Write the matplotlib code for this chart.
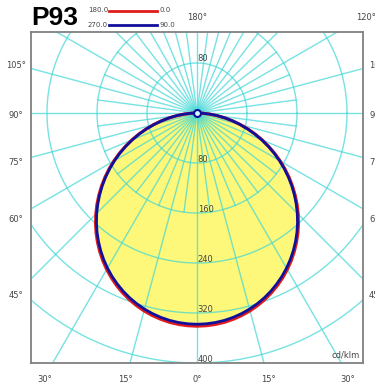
import numpy as np
import matplotlib.pyplot as plt
from matplotlib.lines import Line2D

# luminous intensity (cd/klm) vs gamma angle, C0/C180 and C90/C270 planes
gamma = np.arange(0, 92.5, 2.5)
c0_180 = [341, 340.6, 339.5, 337.7, 335.0, 331.7, 327.7, 322.9, 317.5, 311.3,
          304.5, 297.1, 289.0, 280.4, 271.1, 261.3, 251.0, 240.2, 228.9,
          217.2, 205.1, 192.7, 180.0, 166.9, 153.7, 140.2, 126.6, 113.0,
          99.3, 85.6, 72.0, 58.5, 45.0, 32.2, 20.0, 8.8, 0.5]
c90_270 = [338, 337.6, 336.5, 334.7, 332.1, 328.8, 324.8, 320.1, 314.7, 308.6,
           301.8, 294.5, 286.5, 277.9, 268.7, 259.0, 248.8, 238.1, 226.9,
           215.3, 203.3, 191.0, 178.4, 165.4, 152.3, 139.0, 125.5, 112.0,
           98.4, 84.9, 71.4, 58.2, 45.6, 33.0, 20.9, 9.6, 0.5]

ring_values = [80, 160, 240, 320, 400]
side_labels = ['105°', '90°', '75°', '60°', '45°']
side_y = [66, 115, 163, 220, 295]
bottom_labels = ['30°', '15°', '0°', '15°', '30°']
bottom_x = [45, 125, 197, 268, 348]

W, H = 375, 387
grid_col = '#3ed6d6'
txt_col = '#444444'
red = '#e01c1c'
blue = '#10109c'

fig = plt.figure(figsize=(W / 100, H / 100), dpi=100)
# frame in pixels: x 31..363, y 32..363 ; pole at (197, 113)
ax = fig.add_axes([31 / W, 1 - 363 / H, 332 / W, 331 / H])
scale = 0.625  # px per cd/klm
ax.set_xlim(-166 / scale, 166 / scale)
ax.set_ylim(-250 / scale, 81 / scale)
ax.set_xticks([])
ax.set_yticks([])
for s in ax.spines.values():
    s.set_color('#808080')
    s.set_linewidth(1.3)


def plane(values):
    g = np.radians(gamma)
    v = np.array(values)
    x = np.concatenate([-(v * np.sin(g))[::-1], v * np.sin(g)])
    y = np.concatenate([-(v * np.cos(g))[::-1], -v * np.cos(g)])
    return x, y


xr, yr = plane(c0_180)
xb, yb = plane(c90_270)

ax.fill(xb, yb, color='#fdf87a', zorder=1)

# polar grid
t = np.linspace(0, 2 * np.pi, 400)
for r in ring_values:
    ax.plot(r * np.cos(t), r * np.sin(t), color=grid_col, lw=1.0,
            alpha=0.7, zorder=2)
for a in np.arange(0, 360, 7.5):
    length = 1000 if a % 15 == 0 else 160
    ar = np.radians(a)
    ax.plot([0, length * np.sin(ar)], [0, -length * np.cos(ar)],
            color=grid_col, lw=1.0, alpha=0.7, zorder=2)

ax.plot(xr, yr, color=red, lw=2.3, zorder=3)
ax.plot(xb, yb, color=blue, lw=2.0, zorder=4)
ax.plot([0], [0], 'o', ms=5, mfc='#d0ffff', mec=blue, mew=1.5, zorder=5)

# ring labels
for r in ring_values:
    ax.annotate(str(r), (0, -r), xytext=(0.5, 2.5), textcoords='offset points',
                fontsize=6, color=txt_col, ha='left', va='center', zorder=6)
ax.annotate('80', (0, 80), xytext=(0.5, 3.5), textcoords='offset points',
            fontsize=6, color=txt_col, ha='left', va='center', zorder=6)
ax.text(0.99, 0.012, 'cd/klm', transform=ax.transAxes, fontsize=6,
        color=txt_col, ha='right', va='bottom', zorder=6)

# angle labels around the frame
for lab, y in zip(side_labels, side_y):
    fig.text(16 / W, 1 - y / H, lab, fontsize=6, color=txt_col,
             ha='center', va='center')
    fig.text(369 / W, 1 - y / H, lab, fontsize=6, color=txt_col,
             ha='left', va='center')
for lab, x in zip(bottom_labels, bottom_x):
    fig.text(x / W, 1 - 380 / H, lab, fontsize=6, color=txt_col,
             ha='center', va='center')
fig.text(197 / W, 1 - 17 / H, '180°', fontsize=6, color=txt_col,
         ha='center', va='center')
fig.text(366 / W, 1 - 17 / H, '120°', fontsize=6, color=txt_col,
         ha='center', va='center')

# title and plane legend
fig.text(31 / W, 1 - 18 / H, 'P93', fontsize=19, fontweight='bold',
         family='Liberation Sans', ha='left', va='center')
for y, col, a, b in [(10.5, red, '180.0', '0.0'),
                     (25, blue, '270.0', '90.0')]:
    fig.text(108 / W, 1 - y / H, a, fontsize=5, color=txt_col,
             ha='right', va='center')
    fig.add_artist(Line2D([109 / W, 157 / W], [1 - y / H, 1 - y / H],
                          color=col, lw=2, transform=fig.transFigure))
    fig.text(159 / W, 1 - y / H, b, fontsize=5, color=txt_col,
             ha='left', va='center')

fig.savefig('out.png', dpi=100)
